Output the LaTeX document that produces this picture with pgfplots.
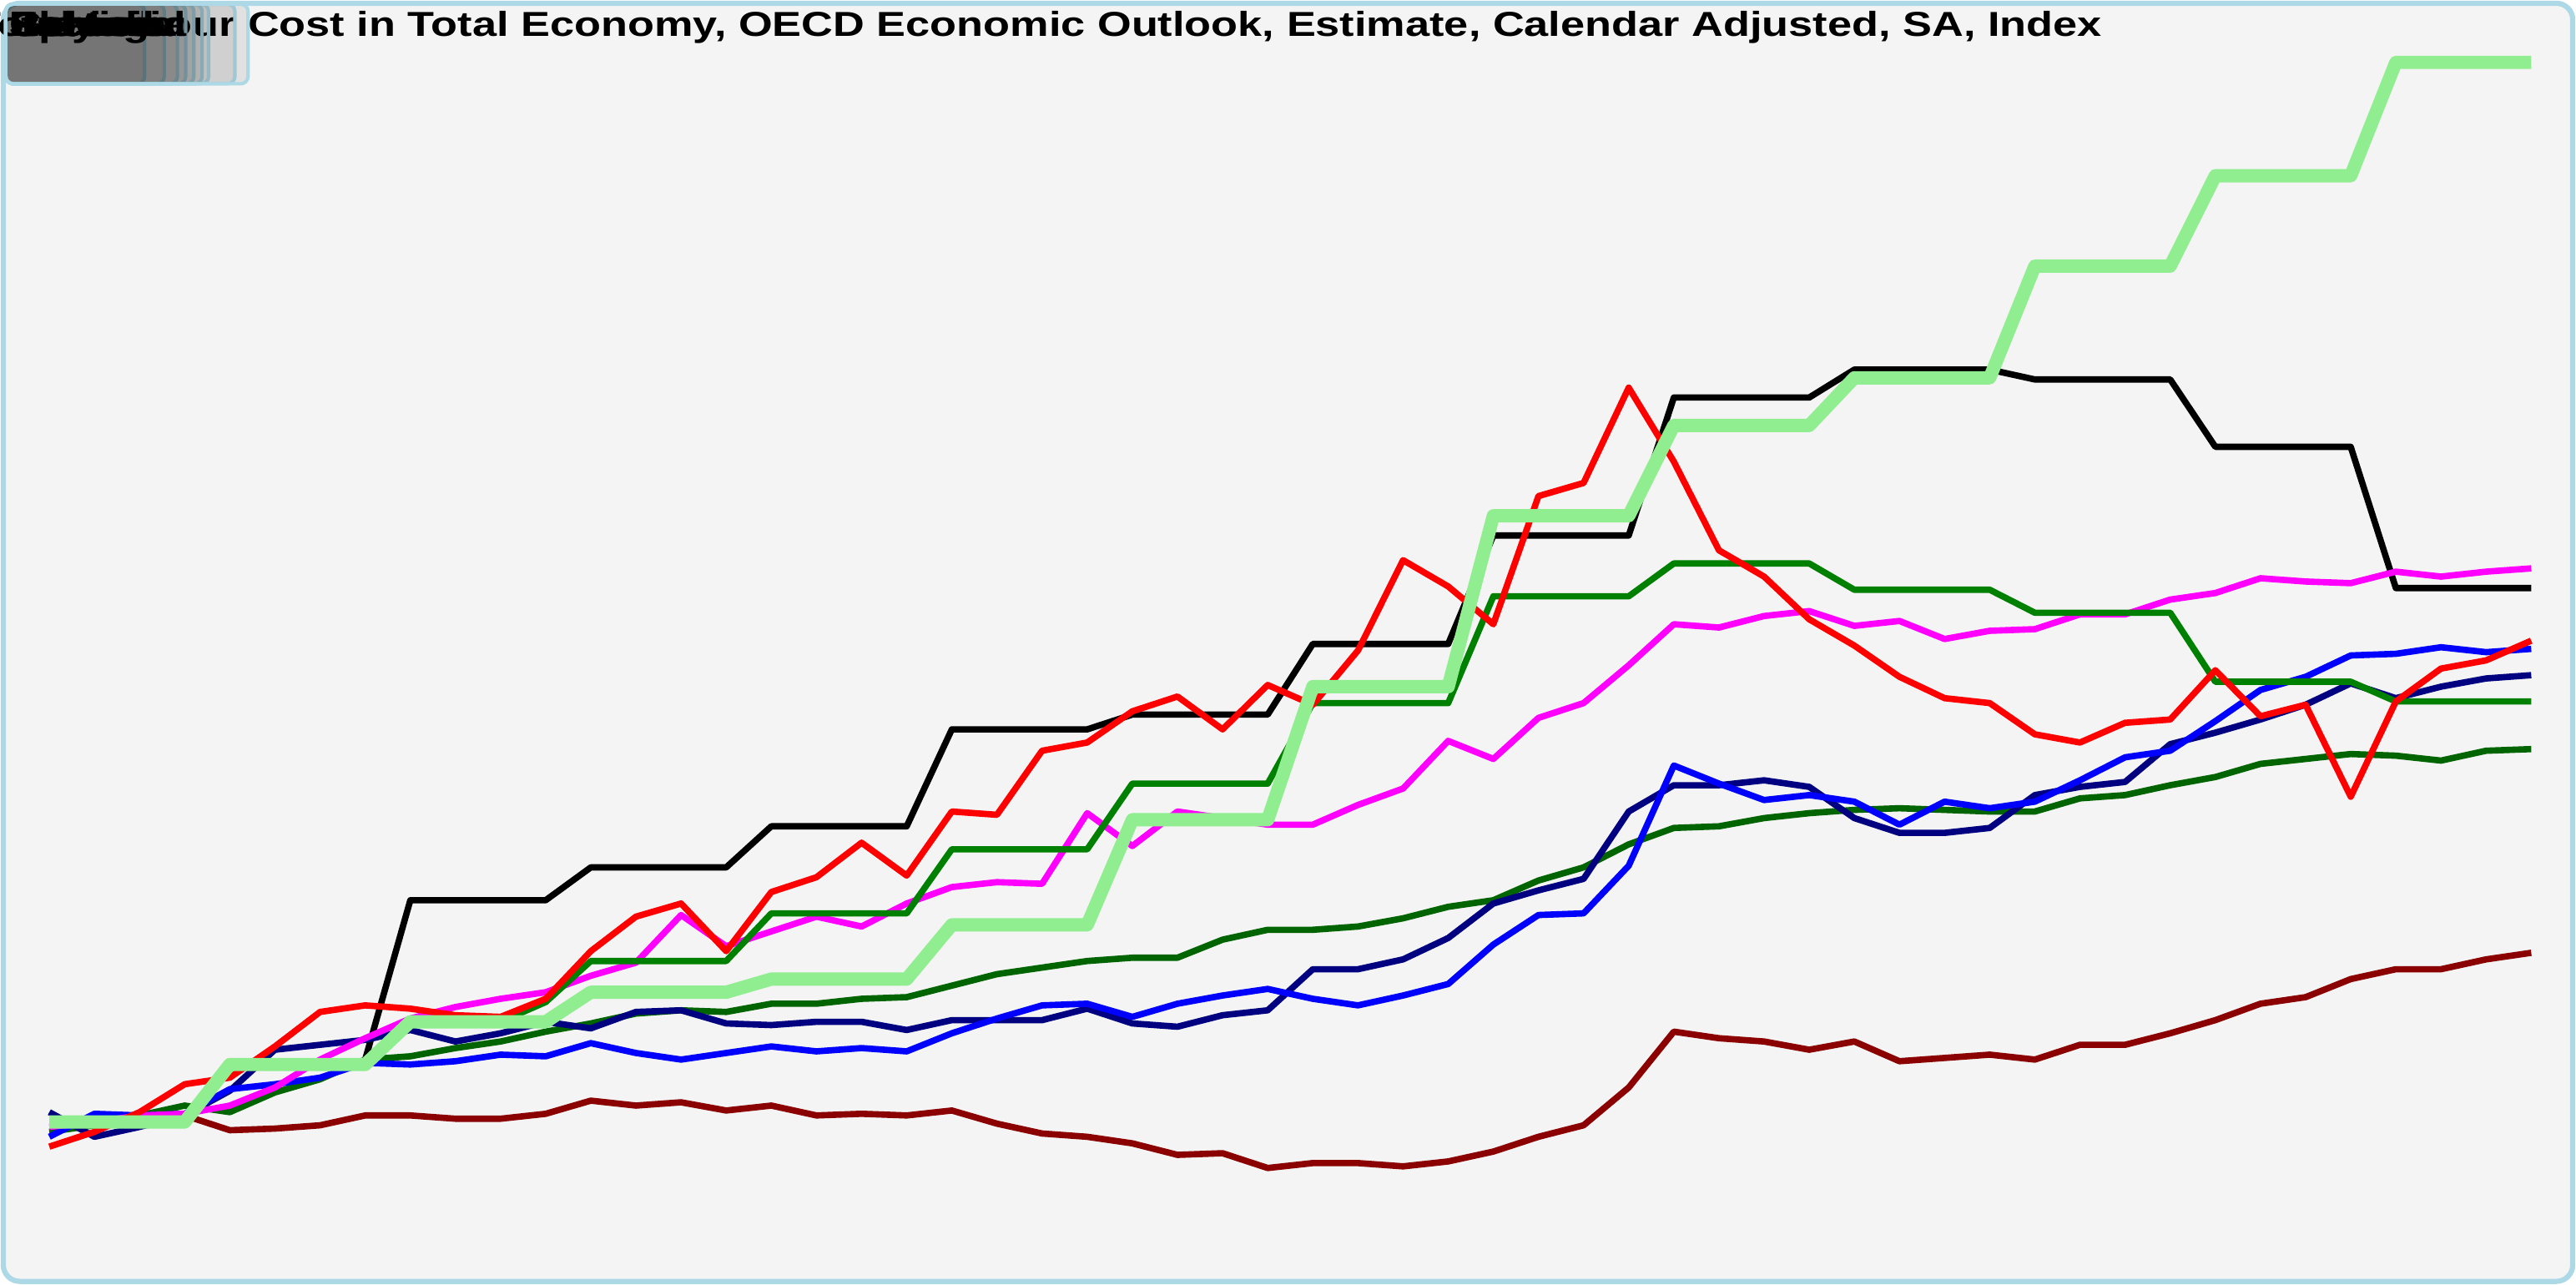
\documentclass[border=0pt]{standalone}
\usepackage{fontspec}
\setmainfont{Liberation Sans}
\usepackage{graphicx}
\usepackage{pgfplots}
\pgfplotsset{compat=1.18}
\usepackage{pgfplotstable}

\definecolor{panel}{HTML}{F4F4F4}
\definecolor{frame}{HTML}{ADD8E6}
\definecolor{ltgreen}{HTML}{90EE90}
\definecolor{dkgreen}{HTML}{006400}
\definecolor{dkred}{HTML}{8B0000}
\definecolor{navyc}{HTML}{000080}
\definecolor{greenc}{HTML}{008000}
\definecolor{magc}{HTML}{FF00FF}
\definecolor{bluec}{HTML}{0000FF}
\definecolor{redc}{HTML}{FF0000}

% quarterly index values, q = 0..55
\pgfplotstableread{
q  black  red    magenta blue   navy   green  dkgreen ltgreen dkred
0  nan    98.5   99.7    99.1   100.6  100.0  99.4    100.0   99.9
1  nan    99.4   100.0   100.5  99.1   100.0  99.8    100.0   99.9
2  nan    100.6  100.4   100.4  99.7   100.0  100.4   100.0   100.1
3  nan    102.3  100.5   100.5  100.4  100.0  101.0   100.0   100.4
4  nan    102.7  101.0   102.0  101.9  103.5  100.6   103.5   99.5
5  nan    104.6  102.1   102.3  104.4  103.5  101.8   103.5   99.6
6  nan    106.7  103.8   102.7  104.7  103.5  102.6   103.5   99.8
7  103.8  107.1  105.1   103.6  105.0  103.5  103.8   103.5   100.4
8  113.5  106.9  106.3   103.5  105.6  106.1  104.0   106.1   100.4
9  113.5  106.5  107.0   103.7  104.9  106.1  104.5   106.1   100.2
10 113.5  106.4  107.5   104.1  105.4  106.1  104.9   106.1   100.2
11 113.5  107.5  107.9   104.0  106.1  107.3  105.5   106.1   100.5
12 115.5  110.4  108.9   104.8  105.7  109.8  106.0   107.9   101.3
13 115.5  112.5  109.7   104.2  106.7  109.8  106.6   107.9   101.0
14 115.5  113.3  112.6   103.8  106.8  109.8  106.8   107.9   101.2
15 115.5  110.4  110.7   104.2  106.0  109.8  106.7   107.9   100.7
16 118.0  114.0  111.6   104.6  105.9  112.7  107.2   108.7   101.0
17 118.0  114.9  112.5   104.3  106.1  112.7  107.2   108.7   100.4
18 118.0  117.0  111.9   104.5  106.1  112.7  107.5   108.7   100.5
19 118.0  115.0  113.3   104.3  105.6  112.7  107.6   108.7   100.4
20 123.9  118.9  114.3   105.4  106.2  116.6  108.3   112.0   100.7
21 123.9  118.7  114.6   106.3  106.2  116.6  109.0   112.0   99.9
22 123.9  122.6  114.5   107.1  106.2  116.6  109.4   112.0   99.3
23 123.9  123.1  118.8   107.2  106.9  116.6  109.8   112.0   99.1
24 124.8  125.0  116.8   106.4  106.0  120.6  110.0   118.4   98.7
25 124.8  125.9  118.9   107.2  105.8  120.6  110.0   118.4   98.0
26 124.8  123.9  118.5   107.7  106.5  120.6  111.1   118.4   98.1
27 124.8  126.6  118.1   108.1  106.8  120.6  111.7   118.4   97.2
28 129.1  125.4  118.1   107.5  109.3  125.5  111.7   126.5   97.5
29 129.1  128.7  119.3   107.1  109.3  125.5  111.9   126.5   97.5
30 129.1  134.2  120.3   107.7  109.9  125.5  112.4   126.5   97.3
31 129.1  132.6  123.2   108.4  111.2  125.5  113.1   126.5   97.6
32 135.7  130.3  122.1   110.8  113.3  132.0  113.5   136.9   98.2
33 135.7  138.1  124.6   112.6  114.1  132.0  114.7   136.9   99.1
34 135.7  138.9  125.5   112.7  114.8  132.0  115.5   136.9   99.8
35 135.7  144.7  127.8   115.6  118.9  132.0  116.9   136.9   102.1
36 144.1  140.2  130.3   121.7  120.5  134.0  117.9   142.4   105.5
37 144.1  134.8  130.1   120.6  120.5  134.0  118.0   142.4   105.1
38 144.1  133.2  130.8   119.6  120.8  134.0  118.5   142.4   104.9
39 144.1  130.6  131.1   119.9  120.4  134.0  118.8   142.4   104.4
40 145.8  129.0  130.2   119.5  118.5  132.4  119.0   145.3   104.9
41 145.8  127.1  130.5   118.1  117.6  132.4  119.1   145.3   103.7
42 145.8  125.8  129.4   119.5  117.6  132.4  119.0   145.3   103.9
43 145.8  125.5  129.9   119.1  117.9  132.4  118.9   145.3   104.1
44 145.2  123.6  130.0   119.5  119.9  131.0  118.9   152.1   103.8
45 145.2  123.1  130.9   120.8  120.4  131.0  119.7   152.1   104.7
46 145.2  124.3  130.9   122.2  120.7  131.0  119.9   152.1   104.7
47 145.2  124.5  131.8   122.6  123.0  131.0  120.5   152.1   105.4
48 141.1  127.5  132.2   124.4  123.7  126.8  121.0   157.6   106.2
49 141.1  124.7  133.1   126.3  124.5  126.8  121.8   157.6   107.2
50 141.1  125.4  132.9   127.1  125.4  126.8  122.1   157.6   107.6
51 141.1  119.8  132.8   128.4  126.7  126.8  122.4   157.6   108.7
52 132.5  125.6  133.5   128.5  125.8  125.6  122.3   164.5   109.3
53 132.5  127.6  133.2   128.9  126.5  125.6  122.0   164.5   109.3
54 132.5  128.1  133.5   128.6  127.0  125.6  122.6   164.5   109.9
55 132.5  129.3  133.7   128.8  127.2  125.6  122.7   164.5   110.3
}\lcdata

\newcommand{\ttl}[1]{\scalebox{1.26}[1]{#1}}

\begin{document}
\begin{tikzpicture}
\begin{axis}[
    at={(0.2mm,0.2mm)}, anchor=south west,
    width=156.4mm, height=77.8mm, scale only axis,
    xmin=-1.02, xmax=55.92,
    ymin=90.3, ymax=168.1,
    xtick=\empty, ytick=\empty,
    axis line style={draw=none},
    axis background/.style={fill=panel, draw=frame, line width=0.9pt, rounded corners=1mm},
    every axis plot/.append style={line width=1.1pt, line join=round, no markers},
]
\addplot[black]   table[x=q, y=black]   {\lcdata};
\addplot[dkred]   table[x=q, y=dkred]   {\lcdata};
\addplot[dkgreen] table[x=q, y=dkgreen] {\lcdata};
\addplot[navyc]   table[x=q, y=navy]    {\lcdata};
\addplot[bluec]   table[x=q, y=blue]    {\lcdata};
\addplot[magc]    table[x=q, y=magenta] {\lcdata};
\addplot[greenc]  table[x=q, y=green]   {\lcdata};
\addplot[redc]    table[x=q, y=red]     {\lcdata};
\addplot[ltgreen, line width=2.3pt] table[x=q, y=ltgreen] {\lcdata};
\end{axis}

% title, set inside the frame
\node[anchor=base east, inner sep=0pt, font=\bfseries\fontsize{6pt}{7pt}\selectfont]
  at (128.0mm,76.0mm) {\ttl{Total Labour Cost in Total Economy, OECD Economic Outlook, Estimate, Calendar Adjusted, SA, Index}};

% legend boxes, all drawn at the same spot
\foreach \w in {8.8,10.0,10.8,11.3,11.8,12.3,12.7,14.3,15.1}
  \path[fill=black, fill opacity=0.075, draw=frame, line width=0.6pt, rounded corners=0.45mm]
    (0.35mm,77.95mm) rectangle (\w mm,73.1mm);
\foreach \n in {Italy,Spain,France,Greece,Poland,Latvia,Estonia,Portugal,Slovakia}
  \node[anchor=base west, inner sep=0pt, font=\bfseries\fontsize{6pt}{7pt}\selectfont]
    at (0.5mm,76.0mm) {\ttl{\n}};

\pgfresetboundingbox
\path[use as bounding box] (0,0) rectangle (156.8mm,78.2mm);
\end{tikzpicture}
\end{document}
